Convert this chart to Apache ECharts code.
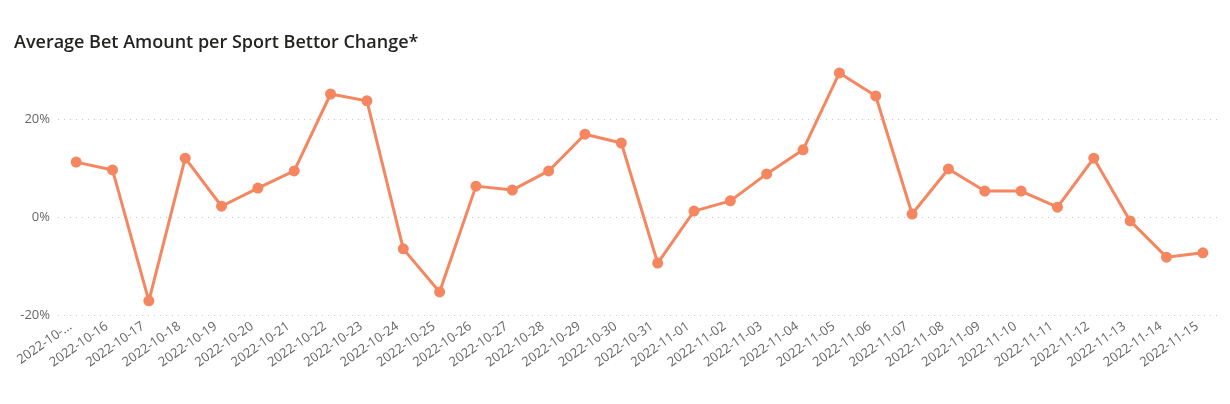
<!DOCTYPE html>
<html><head><meta charset="utf-8">
<script src="https://cdn.jsdelivr.net/npm/echarts@6/dist/echarts.min.js"></script>
<style>html,body{margin:0;padding:0;background:#fff}#c{width:1230px;height:404px}</style>
</head><body><div id="c"></div>
<script>
const categories = ['2022-10-15','2022-10-16','2022-10-17','2022-10-18','2022-10-19','2022-10-20','2022-10-21','2022-10-22','2022-10-23','2022-10-24','2022-10-25','2022-10-26','2022-10-27','2022-10-28','2022-10-29','2022-10-30','2022-10-31','2022-11-01','2022-11-02','2022-11-03','2022-11-04','2022-11-05','2022-11-06','2022-11-07','2022-11-08','2022-11-09','2022-11-10','2022-11-11','2022-11-12','2022-11-13','2022-11-14','2022-11-15'];
const changePct = [11.2,9.6,-17.1,12.0,2.2,5.9,9.4,25.1,23.7,-6.5,-15.3,6.3,5.5,9.4,16.9,15.1,-9.4,1.2,3.3,8.8,13.7,29.4,24.7,0.6,9.8,5.3,5.3,2.0,12.0,-0.8,-8.2,-7.3];
const yTicks = [-20,0,20];
const titleText = 'Average Bet Amount per Sport Bettor Change*';

const chart = echarts.init(document.getElementById('c'), null, {renderer:'canvas'});
chart.setOption({
  animation:false,
  title:{text:titleText,left:9,top:29,textStyle:{fontFamily:'Open Sans',fontSize:18,fontWeight:600,color:'#252423'}},
  grid:{left:58,right:9,top:70,bottom:89,containLabel:false},
  xAxis:{type:'category',data:categories,boundaryGap:true,
    axisLine:{show:false},axisTick:{show:false},
    axisLabel:{interval:0,rotate:35,color:'#666666',fontFamily:'Open Sans',fontSize:13,margin:6,padding:[0,7,0,0],
      formatter:(v,i)=> i===0 ? v.slice(0,7)+'-...' : v}},
  yAxis:{type:'value',min:yTicks[0],max:30,interval:20,
    axisLine:{show:false},axisTick:{show:false},
    axisLabel:{color:'#666666',fontFamily:'Open Sans',fontSize:13,margin:8,showMaxLabel:false,
      formatter:v=> yTicks.includes(v)? v+'%' : ''},
    splitLine:{show:true,showMaxLine:false,lineStyle:{type:[1,5],color:'#C8C6C4',width:1}}},
  series:[{type:'line',data:changePct,clip:false,symbol:'circle',symbolSize:11,
    lineStyle:{color:'#F5865F',width:3},itemStyle:{color:'#F5865F'}}]
});
</script></body></html>
